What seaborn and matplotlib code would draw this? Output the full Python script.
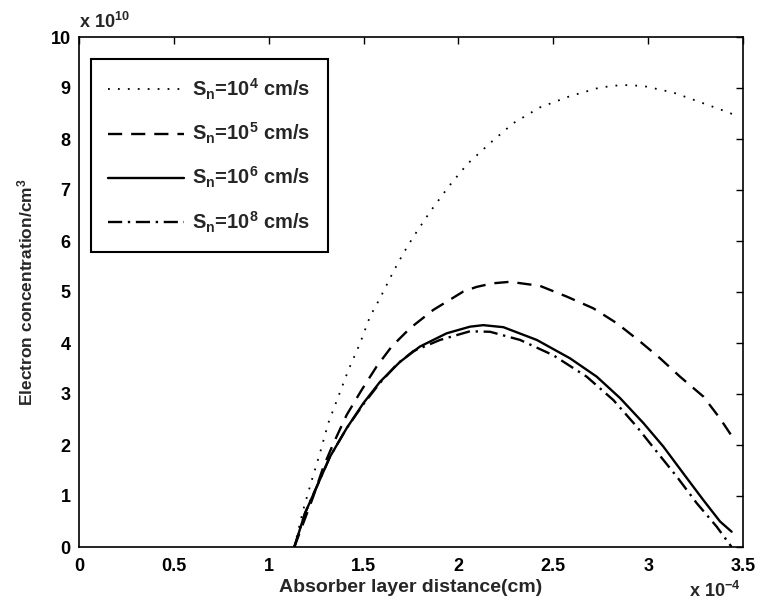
import numpy as np
import pandas as pd
import matplotlib
matplotlib.use("Agg")
import matplotlib.pyplot as plt
import seaborn as sns

# Data (x in units of 1e-4 cm, y in units of 1e10 cm^-3)
x_s4 = [1.135, 1.182, 1.227, 1.270, 1.314, 1.367, 1.420, 1.481, 1.534, 1.587, 1.657, 1.710, 1.762,
        1.850, 1.947, 2.047, 2.167, 2.289, 2.430, 2.588, 2.746, 2.861, 2.975, 3.133, 3.291, 3.402, 3.45]
y_s4 = [0.0, 0.73, 1.31, 1.84, 2.43, 2.95, 3.47, 3.99, 4.52, 4.88, 5.40, 5.76, 6.08,
        6.57, 7.06, 7.51, 7.92, 8.31, 8.62, 8.84, 9.01, 9.06, 9.04, 8.91, 8.70, 8.55, 8.48]

x_s5 = [1.135, 1.235, 1.288, 1.341, 1.411, 1.490, 1.569, 1.648, 1.745, 1.868, 2.026, 2.096, 2.180,
        2.272, 2.430, 2.571, 2.711, 2.834, 2.957, 3.063, 3.168, 3.291, 3.379, 3.449]
y_s5 = [0.0, 0.99, 1.57, 2.03, 2.59, 3.08, 3.54, 3.93, 4.29, 4.65, 5.01, 5.10, 5.17,
        5.20, 5.12, 4.91, 4.68, 4.39, 4.03, 3.70, 3.34, 2.95, 2.52, 2.13]

x_s6 = [1.135, 1.191, 1.253, 1.323, 1.411, 1.499, 1.587, 1.692, 1.797, 1.938, 2.061, 2.131, 2.237,
        2.413, 2.588, 2.729, 2.852, 2.975, 3.080, 3.186, 3.291, 3.379, 3.44]
y_s6 = [0.0, 0.66, 1.18, 1.77, 2.33, 2.82, 3.24, 3.63, 3.93, 4.19, 4.32, 4.35, 4.31,
        4.06, 3.70, 3.34, 2.92, 2.43, 1.97, 1.44, 0.92, 0.50, 0.30]

x_s8 = [1.135, 1.191, 1.253, 1.323, 1.411, 1.499, 1.587, 1.675, 1.762, 1.903, 2.061, 2.167, 2.325,
        2.500, 2.676, 2.817, 2.940, 3.045, 3.151, 3.256, 3.361, 3.44]
y_s8 = [0.0, 0.66, 1.18, 1.77, 2.33, 2.80, 3.22, 3.58, 3.84, 4.06, 4.23, 4.22, 4.06,
        3.76, 3.34, 2.88, 2.36, 1.87, 1.38, 0.86, 0.40, 0.0]

labels = [r"$S_n$=10$^4$ cm/s", r"$S_n$=10$^5$ cm/s", r"$S_n$=10$^6$ cm/s", r"$S_n$=10$^8$ cm/s"]
xticks = [0, 0.5, 1, 1.5, 2, 2.5, 3, 3.5]
yticks = list(range(0, 11))

sns.set_theme(style="white")
plt.rcParams["font.family"] = ["Liberation Sans", "DejaVu Sans"]
plt.rcParams["font.weight"] = "bold"
plt.rcParams["mathtext.fontset"] = "custom"
plt.rcParams["mathtext.rm"] = "Liberation Sans:bold"
plt.rcParams["mathtext.it"] = "Liberation Sans:bold"
plt.rcParams["mathtext.bf"] = "Liberation Sans:bold"
plt.rcParams["mathtext.default"] = "rm"

fig = plt.figure(figsize=(7.6, 6.11), dpi=100)
ax = fig.add_axes([79/760, 1-547/611, (743-79)/760, (547-37)/611])

styles = [(0, (1, 4.5)), (0, (6.0, 3.8)), "-", (0, (6.0, 2.4, 1.0, 2.4))]
lws = [1.3, 1.7, 1.7, 1.7]
series = [(x_s4, y_s4), (x_s5, y_s5), (x_s6, y_s6), (x_s8, y_s8)]
for (xs, ys), lab, ls, lw in zip(series, labels, styles, lws):
    sns.lineplot(x=xs, y=ys, ax=ax, color="black", linestyle=ls, linewidth=lw,
                 label=lab, sort=False, estimator=None)

ax.set_xlim(0, 3.5)
ax.set_ylim(0, 10)
ax.set_xticks(xticks)
ax.set_xticklabels([f"{t:g}" for t in xticks])
ax.set_yticks(yticks)
ax.set_yticklabels([str(t) for t in yticks])
ax.tick_params(axis="both", direction="in", length=5, width=1, top=True, right=True,
               labelsize=13, colors="black")
ax.tick_params(axis="x", pad=8)
ax.tick_params(axis="y", pad=6)
for lab in ax.get_xticklabels() + ax.get_yticklabels():
    lab.set_fontweight("bold")
for sp in ax.spines.values():
    sp.set_color("black")
    sp.set_linewidth(1.2)

ax.set_xlabel("Absorber layer distance(cm)", fontsize=14, fontweight="bold", labelpad=3)
ax.set_ylabel("Electron concentration/cm$^3$", fontsize=12.5, fontweight="bold", labelpad=11)

fig.text(79/760, 1-28/611, r"x 10$^{10}$", fontsize=13, fontweight="bold", ha="left", va="baseline")
fig.text(741/760, 1-597/611, r"x 10$^{-4}$", fontsize=13, fontweight="bold", ha="right", va="baseline")

leg = ax.legend(loc="upper left", bbox_to_anchor=(0.0176, 0.956), borderaxespad=0,
                frameon=True, fancybox=False, edgecolor="black", fontsize=14.5,
                handlelength=3.8, labelspacing=0.95, handletextpad=0.4,
                borderpad=0.85)
leg.get_frame().set_linewidth(1.5)
leg.get_frame().set_alpha(1)

fig.savefig("out.png", dpi=100)
